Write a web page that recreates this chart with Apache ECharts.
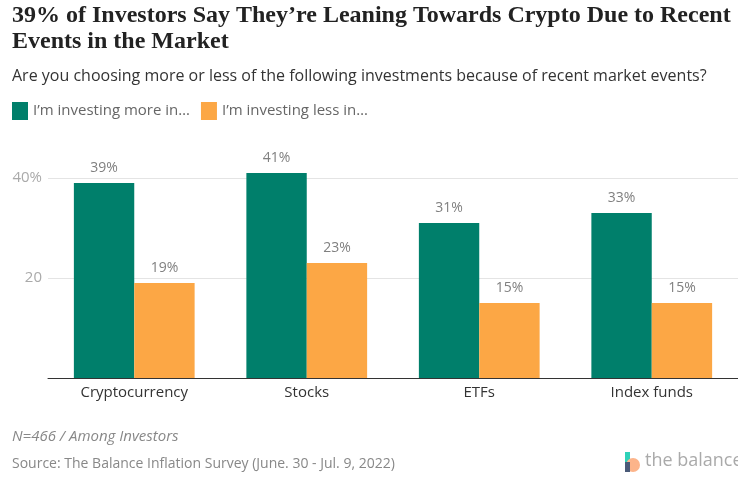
<!DOCTYPE html>
<html>
<head>
<meta charset="utf-8">
<script src="https://cdn.jsdelivr.net/npm/echarts@6/dist/echarts.min.js"></script>
<style>
  html, body { margin: 0; padding: 0; background: #fff; }
  #main { width: 738px; height: 480px; }
</style>
</head>
<body>
<div id="main"></div>
<script>
// chart data
const categories = ['Cryptocurrency', 'Stocks', 'ETFs', 'Index funds'];
const investingMore = [39, 41, 31, 33];
const investingLess = [19, 23, 15, 15];
const seriesNames = ['I\u2019m investing more in\u2026', 'I\u2019m investing less in\u2026'];

const sans = 'Open Sans';
const green = '#007f6b';
const orange = '#fca745';

let myChart = echarts.init(document.getElementById('main'));

let options = {
    animation: false,
    title: [
        {
            text: '39% of Investors Say They\u2019re Leaning Towards Crypto Due to Recent\nEvents in the Market',
            left: 12, top: 3, padding: 0,
            textStyle: { fontFamily: 'Liberation Serif', fontSize: 24, fontWeight: 'bold', color: '#222', lineHeight: 26 }
        },
        {
            text: 'Are you choosing more or less of the following investments because of recent market events?',
            left: 12, top: 68, padding: 0,
            textStyle: { fontFamily: sans, fontSize: 16, fontWeight: 'normal', color: '#333' }
        },
        {
            text: 'N=466 / Among Investors',
            left: 12, top: 429, padding: 0,
            textStyle: { fontFamily: sans, fontSize: 15, fontStyle: 'italic', fontWeight: 'normal', color: '#888' }
        },
        {
            text: 'Source: The Balance Inflation Survey (June. 30 - Jul. 9, 2022)',
            left: 12, top: 457, padding: 0,
            textStyle: { fontFamily: sans, fontSize: 14, fontWeight: 'normal', color: '#888' }
        }
    ],
    legend: {
        left: 12, top: 102, padding: 0,
        itemWidth: 16, itemHeight: 18, itemGap: 11,
        icon: 'rect',
        textStyle: { fontFamily: sans, fontSize: 15, color: '#666' },
        data: seriesNames
    },
    grid: { left: 48, right: 0, top: 178, bottom: 102, containLabel: false },
    xAxis: {
        type: 'category',
        data: categories,
        axisTick: { show: false },
        axisLine: { lineStyle: { color: '#333', width: 1 } },
        axisLabel: { fontFamily: sans, fontSize: 15, color: '#333', margin: 7 }
    },
    yAxis: {
        type: 'value',
        min: 0, max: 40, interval: 20,
        axisLine: { show: false },
        axisTick: { show: false },
        splitLine: { lineStyle: { color: '#e4e4e4' } },
        axisLabel: {
            fontFamily: sans, fontSize: 15, color: '#aaa', margin: 6,
            formatter: v => v === 0 ? '' : (v === 40 ? v + '%' : String(v))
        }
    },
    series: [
        {
            name: seriesNames[0], type: 'bar', data: investingMore,
            itemStyle: { color: green }, barGap: '0%', barCategoryGap: '30%', clip: false,
            label: { show: true, position: 'top', formatter: '{c}%', fontFamily: sans, fontSize: 14, color: '#808080', distance: 8 }
        },
        {
            name: seriesNames[1], type: 'bar', data: investingLess,
            itemStyle: { color: orange }, clip: false,
            label: { show: true, position: 'top', formatter: '{c}%', fontFamily: sans, fontSize: 14, color: '#808080', distance: 8 }
        }
    ],
    graphic: [
        { type: 'rect', shape: { x: 625, y: 452, width: 5, height: 20 }, style: { fill: '#2fd1b8' } },
        { type: 'circle', shape: { cx: 633, cy: 465, r: 7 }, style: { fill: '#fcb48a' } },
        { type: 'rect', shape: { x: 625, y: 462, width: 5, height: 10 }, style: { fill: '#4a5a78' } },
        { type: 'text', left: 645, top: 452, style: { text: 'the balance', fontFamily: sans, fontSize: 18, fill: '#aaa' } }
    ]
};

myChart.setOption(options);
</script>
</body>
</html>
